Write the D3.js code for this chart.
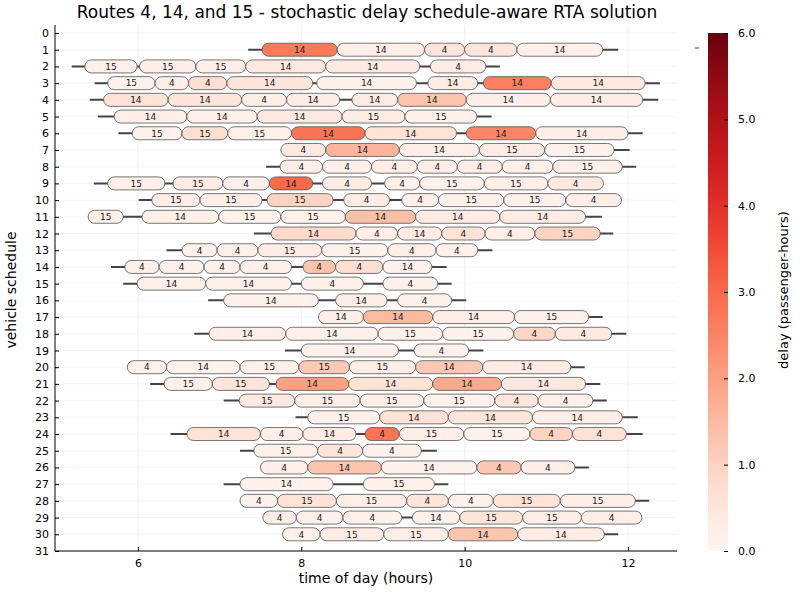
<!DOCTYPE html>
<html><head><meta charset="utf-8">
<script src="https://cdn.jsdelivr.net/npm/d3@7"></script>
<style>body{margin:0;background:#fff}svg{font-family:"DejaVu Sans",sans-serif}</style>
</head><body><svg id="c" width="800" height="600"></svg>
<script>
const title = "Routes 4, 14, and 15 - stochastic delay schedule-aware RTA solution";
const xTicks = [6, 8, 10, 12];
const yTicks = d3.range(0, 32);
const cbTicks = [0, 1, 2, 3, 4, 5, 6];
// [row, start, end]
const lines = [
[1,7.35,11.88],[2,5.19,10.43],[3,5.47,12.39],[4,5.41,12.37],[5,5.51,10.33],[6,5.76,12.18],
[7,7.75,12.02],[8,7.57,12.10],[9,5.46,11.70],[10,6.01,11.92],[11,5.39,11.68],[12,7.42,11.82],
[13,6.35,10.34],[14,5.67,9.78],[15,5.82,9.84],[16,6.86,10.02],[17,8.21,11.69],[18,6.69,11.98],
[19,7.80,10.23],[20,5.87,11.47],[21,6.15,11.66],[22,7.05,11.74],[23,7.93,12.12],[24,6.40,12.18],
[25,7.25,9.66],[26,7.50,11.52],[27,7.05,9.80],[28,7.25,12.26],[29,7.53,12.17],[30,7.77,11.88]];
// [row, start, end, route, delay]
const trips = [
[1,7.52,8.44,14,2.7],[1,8.44,9.51,14,0.2],[1,9.51,10.0,4,0.5],[1,10.0,10.64,4,0.5],[1,10.64,11.69,14,0.15],
[2,5.35,5.99,15,0.15],[2,6.02,6.71,15,0.2],[2,6.71,7.32,15,0.2],[2,7.32,8.30,14,0.4],[2,8.30,9.45,14,0.35],[2,9.58,10.26,4,0.3],
[3,5.63,6.21,15,0.1],[3,6.21,6.62,4,0.2],[3,6.62,7.09,4,0.7],[3,7.09,8.14,14,0.5],[3,8.19,9.41,14,0.1],[3,9.55,10.16,14,0.3],[3,10.23,11.06,14,2.6],[3,11.06,12.21,14,0.4],
[4,5.58,6.37,14,0.6],[4,6.37,7.27,14,0.5],[4,7.27,7.82,4,0.25],[4,7.82,8.47,14,0.3],[4,8.62,9.18,14,0.3],[4,9.18,10.02,14,1.3],[4,10.02,11.05,14,0.2],[4,11.05,12.18,14,0.3],
[5,5.71,6.60,14,0.2],[5,6.60,7.46,14,0.15],[5,7.46,8.50,14,0.4],[5,8.50,9.27,15,0.3],[5,9.27,10.15,15,0.1],
[6,5.93,6.54,15,0.1],[6,6.54,7.10,15,0.7],[6,7.10,7.88,15,0.15],[6,7.88,8.78,14,2.8],[6,8.78,9.90,14,0.6],[6,10.02,10.87,14,2.5],[6,10.87,12.0,14,0.2],
[7,7.75,8.30,4,0.4],[7,8.30,9.20,14,1.6],[7,9.20,10.18,14,0.2],[7,10.18,10.98,15,0.3],[7,10.98,11.83,15,0.1],
[8,7.74,8.26,4,0.2],[8,8.26,8.86,4,0.15],[8,8.86,9.42,4,0.2],[8,9.42,9.91,4,0.2],[8,9.91,10.46,4,0.2],[8,10.46,11.08,4,0.15],[8,11.08,11.93,15,0.15],
[9,5.63,6.33,15,0.15],[9,6.43,7.04,15,0.3],[9,7.04,7.61,4,0.15],[9,7.61,8.14,14,3.0],[9,8.26,8.86,4,0.3],[9,9.02,9.45,4,0.15],[9,9.45,10.24,15,0.1],[9,10.24,11.02,15,0.2],[9,11.02,11.70,4,0.4],
[10,6.17,6.76,15,0.2],[10,6.76,7.52,15,0.2],[10,7.58,8.39,15,1.0],[10,8.52,9.08,4,0.3],[10,9.23,9.68,4,0.15],[10,9.68,10.48,15,0.1],[10,10.48,11.24,15,0.1],[10,11.24,11.92,4,0.2],
[11,5.39,5.82,15,0.2],[11,6.05,6.99,14,0.15],[11,6.99,7.75,15,0.1],[11,7.75,8.54,15,0.1],[11,8.54,9.40,14,1.4],[11,9.40,10.43,14,0.3],[11,10.43,11.48,14,0.3],
[12,7.63,8.67,14,0.8],[12,8.67,9.18,4,0.2],[12,9.18,9.72,14,0.3],[12,9.72,10.25,4,0.6],[12,10.25,10.86,4,0.2],[12,10.86,11.66,15,1.0],
[13,6.54,6.97,4,0.1],[13,6.97,7.47,4,0.15],[13,7.47,8.25,15,0.3],[13,8.25,9.06,15,0.1],[13,9.06,9.65,4,0.2],[13,9.65,10.16,4,0.1],
[14,5.84,6.26,4,0.15],[14,6.26,6.81,4,0.1],[14,6.81,7.25,4,0.1],[14,7.25,7.88,4,0.15],[14,8.02,8.42,4,1.3],[14,8.42,9.00,4,0.7],[14,9.00,9.60,14,0.1],
[15,5.99,6.83,14,0.15],[15,6.83,7.88,14,0.15],[15,8.00,8.76,4,0.15],[15,9.00,9.67,4,0.1],
[16,7.05,8.21,14,0.1],[16,8.42,9.05,14,0.2],[16,9.18,9.84,4,0.1],
[17,8.21,8.76,14,0.2],[17,8.76,9.61,14,1.5],[17,9.61,10.61,14,0.2],[17,10.61,11.52,15,0.1],
[18,6.87,7.81,14,0.2],[18,7.81,8.94,14,0.15],[18,8.94,9.73,15,0.1],[18,9.73,10.60,15,0.1],[18,10.60,11.11,4,0.9],[18,11.11,11.80,4,0.4],
[19,8.0,9.19,14,0.1],[19,9.38,10.05,4,0.1],
[20,5.87,6.35,4,0.1],[20,6.35,7.25,14,0.1],[20,7.25,7.97,15,0.15],[20,7.97,8.59,15,1.2],[20,8.59,9.40,15,0.2],[20,9.40,10.22,14,1.2],[20,10.22,11.30,14,0.3],
[21,6.32,6.91,15,0.15],[21,6.91,7.61,15,0.5],[21,7.69,8.58,14,2.0],[21,8.58,9.61,14,0.6],[21,9.61,10.45,14,1.8],[21,10.45,11.48,14,0.4],
[22,7.24,7.92,15,0.4],[22,7.92,8.72,15,0.2],[22,8.72,9.50,15,0.2],[22,9.50,10.37,15,0.1],[22,10.37,10.90,4,0.5],[22,10.90,11.57,4,0.15],
[23,8.08,8.96,15,0.1],[23,8.96,9.80,14,0.6],[23,9.80,10.83,14,0.5],[23,10.83,11.93,14,0.2],
[24,6.60,7.50,14,0.6],[24,7.50,8.02,4,0.2],[24,8.02,8.67,14,0.3],[24,8.78,9.20,4,2.8],[24,9.20,9.99,15,0.2],[24,9.99,10.80,15,0.1],[24,10.80,11.32,4,1.0],[24,11.32,11.98,4,0.6],
[25,7.42,8.20,15,0.15],[25,8.20,8.75,4,0.5],[25,8.75,9.47,4,0.1],
[26,7.50,8.08,4,0.2],[26,8.08,8.98,14,1.3],[26,8.98,10.15,14,0.1],[26,10.15,10.69,4,1.2],[26,10.69,11.35,4,0.2],
[27,7.25,8.39,14,0.1],[27,8.76,9.63,15,0.15],
[28,7.25,7.71,4,0.1],[28,7.71,8.43,15,0.6],[28,8.43,9.29,15,0.2],[28,9.29,9.80,4,0.5],[28,9.80,10.35,4,0.1],[28,10.35,11.17,15,0.6],[28,11.17,12.09,15,0.2],
[29,7.53,7.94,4,0.2],[29,7.94,8.51,4,0.1],[29,8.51,9.23,4,0.1],[29,9.36,9.94,14,0.1],[29,9.94,10.71,15,0.5],[29,10.71,11.43,15,0.2],[29,11.43,12.17,4,0.2],
[30,7.77,8.23,4,0.1],[30,8.23,9.01,15,0.3],[30,9.01,9.80,15,0.2],[30,9.80,10.65,14,1.3],[30,10.65,11.71,14,0.3]];

const svg = d3.select("#c");
const L=55, R=677, T=33, B=551;
const x = d3.scaleLinear().domain([4.985, 12.6]).range([L, R]);
const y = d3.scaleLinear().domain([0, 31]).range([T, B]);
const color = d3.scaleSequential(d3.interpolateReds).domain([0, 6]);

// grid
svg.append("g").selectAll("line").data(xTicks).join("line")
  .attr("x1", d=>x(d)).attr("x2", d=>x(d)).attr("y1", 25).attr("y2", B)
  .attr("stroke", "#e6e6e6").attr("stroke-width", 0.6);
svg.append("g").selectAll("line").data(yTicks).join("line")
  .attr("x1", L).attr("x2", R).attr("y1", d=>y(d)).attr("y2", d=>y(d))
  .attr("stroke", "#ececec").attr("stroke-width", 0.6);

// whisker lines
svg.append("g").selectAll("line").data(lines).join("line")
  .attr("x1", d=>x(d[1])).attr("x2", d=>x(d[2])).attr("y1", d=>y(d[0])).attr("y2", d=>y(d[0]))
  .attr("stroke", "#444").attr("stroke-width", 2);

const h = 13;
const g = svg.append("g");
g.selectAll("rect").data(trips).join("rect")
  .attr("x", d=>x(d[1])).attr("width", d=>x(d[2])-x(d[1]))
  .attr("y", d=>y(d[0])-h/2).attr("height", h).attr("rx", 6.5).attr("ry", 6.5)
  .attr("fill", d=>color(d[4])).attr("stroke", "#555").attr("stroke-width", 0.8);
g.selectAll("text").data(trips).join("text")
  .attr("x", d=>(x(d[1])+x(d[2]))/2).attr("y", d=>y(d[0])+3.3)
  .attr("text-anchor", "middle").attr("font-size", 9).attr("fill", "#222")
  .text(d=>d[3]);

// axes
const xa = svg.append("g").attr("transform", `translate(0,${B})`)
  .call(d3.axisBottom(x).tickValues(xTicks).tickSize(-4).tickPadding(8).tickFormat(d3.format("d")));
const ya = svg.append("g").attr("transform", `translate(${L},0)`)
  .call(d3.axisLeft(y).tickValues(yTicks).tickSize(-4).tickPadding(6));
[xa, ya].forEach(a=>{a.select(".domain").attr("stroke","#000");
  a.selectAll("text").attr("font-size", 11).attr("fill","#000").attr("font-family","DejaVu Sans");
  a.selectAll(".tick line").attr("stroke","#000");});
xa.select(".domain").attr("d", `M${L},0H${R}`);
ya.select(".domain").attr("d", `M0,25V${B}`);

svg.append("text").attr("x", 366).attr("y", 583).attr("text-anchor","middle")
  .attr("font-size", 14).text("time of day (hours)");
svg.append("text").attr("transform","translate(16,290) rotate(-90)").attr("text-anchor","middle")
  .attr("font-size", 14).text("vehicle schedule");
svg.append("text").attr("x", 367).attr("y", 18).attr("text-anchor","middle")
  .attr("font-size", 17).text(title);

// colorbar
const cbX=708, cbW=20;
const cy = d3.scaleLinear().domain([0,6]).range([B, T]);
const defs = svg.append("defs");
const grad = defs.append("linearGradient").attr("id","cb").attr("x1",0).attr("x2",0).attr("y1",1).attr("y2",0);
d3.range(0,1.0001,0.05).forEach(t=>grad.append("stop").attr("offset",t).attr("stop-color",color(t*6)));
svg.append("rect").attr("x",cbX).attr("y",T).attr("width",cbW).attr("height",B-T).attr("fill","url(#cb)");
const ca = svg.append("g").attr("transform",`translate(${cbX+cbW},0)`)
  .call(d3.axisRight(cy).tickValues(cbTicks).tickSize(-4).tickPadding(10));
ca.select(".domain").remove();
ca.selectAll("text").attr("font-size",11).attr("fill","#000").attr("font-family","DejaVu Sans");
ca.selectAll(".tick line").attr("stroke","#000");
svg.append("line").attr("x1",695).attr("x2",699).attr("y1",48).attr("y2",48).attr("stroke","#444");
svg.append("text").attr("transform","translate(788,290) rotate(-90)").attr("text-anchor","middle")
  .attr("font-size",13).text("delay (passenger-hours)");
</script></body></html>
